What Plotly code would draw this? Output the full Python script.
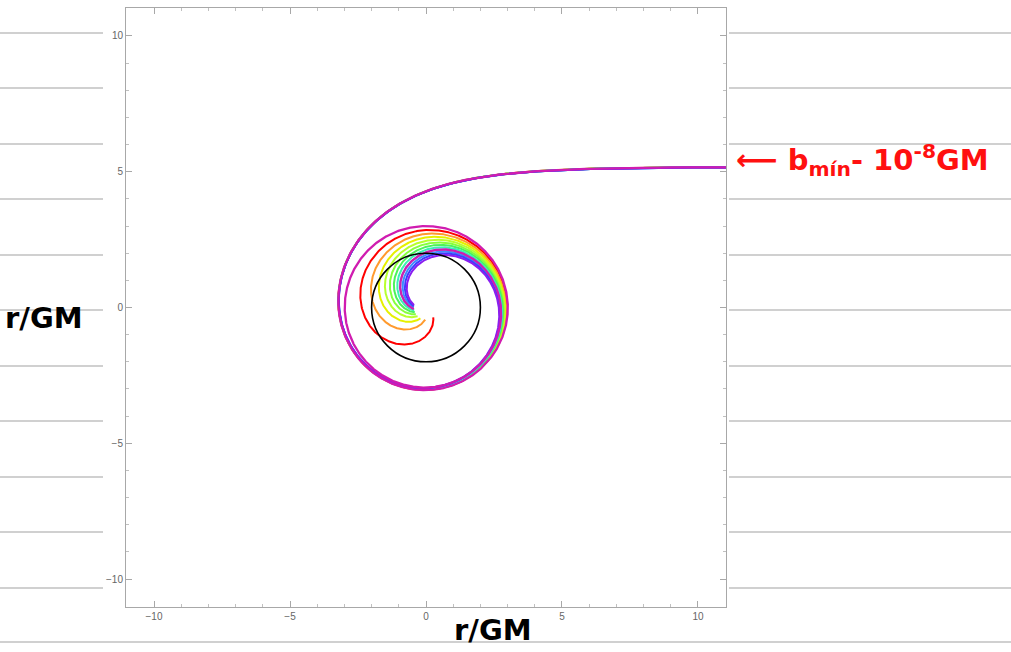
import numpy as np
import plotly.graph_objects as go

# ---------------- data ----------------
GM = 1.0
b_min = 3 * np.sqrt(3) * GM            # critical impact parameter
# offsets below b_min for the rainbow family (units of GM)
rainbow_offsets = [0.001, 0.002, 0.003, 0.004, 0.005, 0.006, 0.007, 0.008, 0.009, 0.010, 0.011]
rainbow_colors = ["#ff0000", "#ff9a2e", "#e6f000", "#b8ff2e", "#86ff3c", "#4cf25a",
                  "#3cf0b4", "#3ce6ff", "#3c8cff", "#3c3cff", "#8a1ef0"]
# the long-orbiting photon (label b_min - 10^-8 GM)
special_offset = [1.5e-5]
special_color = ["#d01cb0"]
horizon_r = 2.0 * GM
r_start = 1000.0
r_stop = 0.45

axis_ticks = [-10, -5, 0, 5, 10]
paper_lines_y = [33, 88, 144, 199, 255, 310, 366, 421, 477, 532, 588]


def photon_orbits(offsets, h=0.002, phi_max=40.0):
    b = b_min - np.asarray(offsets, dtype=float)
    n = len(b)
    u = np.full(n, 1.0 / r_start)
    v = np.sqrt(1.0 / b**2 - u**2 + 2 * GM * u**3)
    phi0 = np.arcsin(b * u)
    us = [u.copy()]
    steps = int(phi_max / h)

    def acc(uu):
        return -uu + 3 * GM * uu**2

    done = np.zeros(n, bool)
    for _ in range(steps):
        k1u, k1v = v, acc(u)
        k2u, k2v = v + 0.5 * h * k1v, acc(u + 0.5 * h * k1u)
        k3u, k3v = v + 0.5 * h * k2v, acc(u + 0.5 * h * k2u)
        k4u, k4v = v + h * k3v, acc(u + h * k3u)
        u = u + h / 6 * (k1u + 2 * k2u + 2 * k3u + k4u)
        v = v + h / 6 * (k1v + 2 * k2v + 2 * k3v + k4v)
        u = np.where(done, us[-1], u)
        us.append(u.copy())
        done |= u > 1.0 / r_stop
        if done.all():
            break
    U = np.array(us)
    out = []
    for i in range(n):
        ui = U[:, i]
        idx = np.argmax(ui > 1.0 / r_stop) if (ui > 1.0 / r_stop).any() else len(ui) - 1
        ui = ui[: idx + 1]
        ph = phi0[i] + h * np.arange(len(ui))
        r = 1.0 / ui
        keep = r < 40
        keep[-1] = True
        x, y = r * np.cos(ph), r * np.sin(ph)
        sel = np.zeros(len(ui), bool)
        sel[::2] = True
        sel[-1] = True
        sel &= keep
        out.append((x[sel], y[sel]))
    return out


fig = go.Figure()
for (x, y), c in zip(photon_orbits(rainbow_offsets), rainbow_colors):
    fig.add_trace(go.Scatter(x=x, y=y, mode="lines", line=dict(color=c, width=2),
                             hoverinfo="skip", showlegend=False))
for (x, y), c in zip(photon_orbits(special_offset), special_color):
    fig.add_trace(go.Scatter(x=x, y=y, mode="lines", line=dict(color=c, width=2.3),
                             hoverinfo="skip", showlegend=False))

W, H = 1011, 652
L, R, T, B = 126, 726, 8, 607


def px(xp):
    return (xp - L) / (R - L)


def py(yp):
    return (B - yp) / (B - T)


shapes = [dict(type="circle", xref="x", yref="y", x0=-horizon_r, x1=horizon_r,
               y0=-horizon_r, y1=horizon_r, line=dict(color="black", width=1.6))]
for yy in paper_lines_y:
    shapes.append(dict(type="line", xref="paper", yref="paper", x0=px(0), x1=px(103),
                       y0=py(yy), y1=py(yy), line=dict(color="#d0d0d0", width=2)))
    shapes.append(dict(type="line", xref="paper", yref="paper", x0=px(729), x1=px(1011),
                       y0=py(yy), y1=py(yy), line=dict(color="#d0d0d0", width=2)))
shapes.append(dict(type="line", xref="paper", yref="paper", x0=px(0), x1=px(1011),
                   y0=py(642), y1=py(642), line=dict(color="#d0d0d0", width=2)))

axis_style = dict(range=[-11.03, 11.03], showgrid=False, zeroline=False,
                  showline=True, linecolor="#a8a8a8", linewidth=1, mirror="allticks",
                  ticks="inside", ticklen=6, tickcolor="#a8a8a8", tickvals=axis_ticks,
                  tickfont=dict(family="Liberation Sans, Arial", size=10, color="#666666"),
                  minor=dict(dtick=1, ticks="inside", ticklen=3, tickcolor="#c0c0c0",
                             showgrid=False))

hand = "DejaVu Sans"
annotations = [
    dict(xref="paper", yref="paper", x=px(44), y=py(318), xanchor="center", yanchor="middle",
         text="r/GM", showarrow=False,
         font=dict(family=hand, size=29, color="black", weight="bold")),
    dict(xref="paper", yref="paper", x=px(493), y=py(630), xanchor="center", yanchor="middle",
         text="r/GM", showarrow=False,
         font=dict(family=hand, size=29, color="black", weight="bold")),
    dict(xref="paper", yref="paper", x=px(734), y=py(160), xanchor="left", yanchor="middle",
         text="⟵ b<sub>mín</sub>- 10<sup>-8</sup>GM", showarrow=False,
         font=dict(family=hand, size=29, color="#ff1010", weight="bold")),
]

fig.update_layout(width=W, height=H, margin=dict(l=L, r=W - R, t=T, b=H - B),
                  paper_bgcolor="white", plot_bgcolor="white",
                  xaxis=axis_style, yaxis=axis_style, shapes=shapes,
                  annotations=annotations, showlegend=False)
fig.write_html("out.html")
